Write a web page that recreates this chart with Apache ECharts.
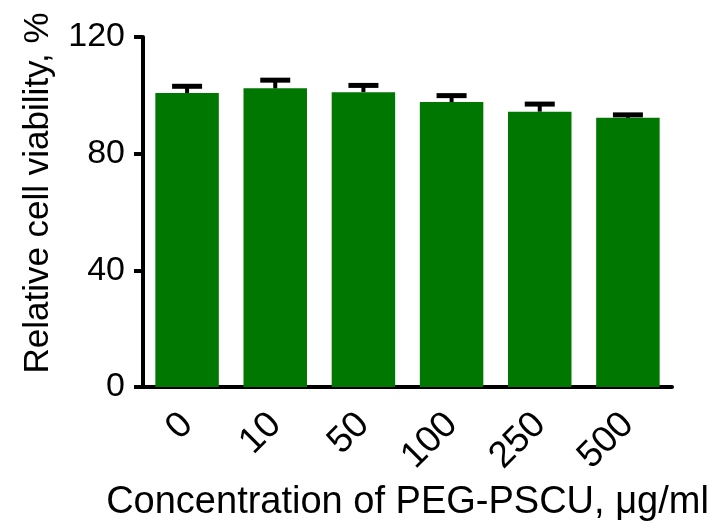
<!DOCTYPE html>
<html>
<head>
<meta charset="utf-8">
<script src="https://cdn.jsdelivr.net/npm/echarts@6/dist/echarts.min.js"></script>
<style>
  html, body { margin: 0; padding: 0; background: #fff; }
  #main { width: 715px; height: 531px; }
</style>
</head>
<body>
<div id="main"></div>
<script>
// data
var categories = ['0', '10', '50', '100', '250', '500'];
var viability = [100.8, 102.4, 101.1, 97.7, 94.4, 92.3];
var errors = [2.3, 2.8, 2.3, 2.2, 2.6, 1.0];
var yTicks = [0, 40, 80, 120];

document.addEventListener('DOMContentLoaded', function () {
  var myChart = echarts.init(document.getElementById('main'));
  var font = 'Liberation Sans';

  // [index, mean, sd] for the error bars
  var errData = categories.map(function (c, i) {
    return [i, viability[i], errors[i]];
  });

  var option = {
    animation: false,
    grid: { left: 143, right: 43, top: 37, bottom: 144 },
    xAxis: {
      type: 'category',
      data: categories,
      name: 'Concentration of PEG-PSCU, μg/ml',
      nameLocation: 'middle',
      nameGap: 97,
      nameTextStyle: { fontFamily: font, fontSize: 38, color: '#000' },
      axisLine: { lineStyle: { color: '#000', width: 4 } },
      axisTick: { alignWithLabel: true, length: 8, lineStyle: { color: '#000', width: 4 } },
      axisLabel: { rotate: 45, fontFamily: font, fontSize: 37, color: '#000', margin: 32 }
    },
    yAxis: {
      type: 'value',
      min: yTicks[0],
      max: yTicks[yTicks.length - 1],
      interval: 40,
      name: 'Relative cell viability, %',
      nameLocation: 'middle',
      nameGap: 87,
      nameTextStyle: { fontFamily: font, fontSize: 35, color: '#000', padding: [0, 0, 0, 38] },
      axisLine: { show: true, lineStyle: { color: '#000', width: 4 } },
      axisTick: { show: true, length: 9, lineStyle: { color: '#000', width: 4 } },
      axisLabel: { fontFamily: font, fontSize: 34, color: '#000', margin: 18 },
      splitLine: { show: false }
    },
    series: [
      {
        type: 'bar',
        data: viability,
        barCategoryGap: '28%',
        itemStyle: { color: '#007700' },
        z: 2
      },
      {
        type: 'custom',
        data: errData,
        z: 3,
        renderItem: function (params, api) {
          var i = api.value(0);
          var top = api.coord([i, api.value(1) + api.value(2)]);
          var base = api.coord([i, api.value(1)]);
          var capW = 30;
          return {
            type: 'group',
            children: [
              { type: 'line', shape: { x1: base[0], y1: base[1], x2: top[0], y2: top[1] },
                style: { stroke: '#000', lineWidth: 4 } },
              { type: 'line', shape: { x1: top[0] - capW / 2, y1: top[1], x2: top[0] + capW / 2, y2: top[1] },
                style: { stroke: '#000', lineWidth: 5 } }
            ]
          };
        }
      }
    ]
  };
  myChart.setOption(option);
});
</script>
</body>
</html>
